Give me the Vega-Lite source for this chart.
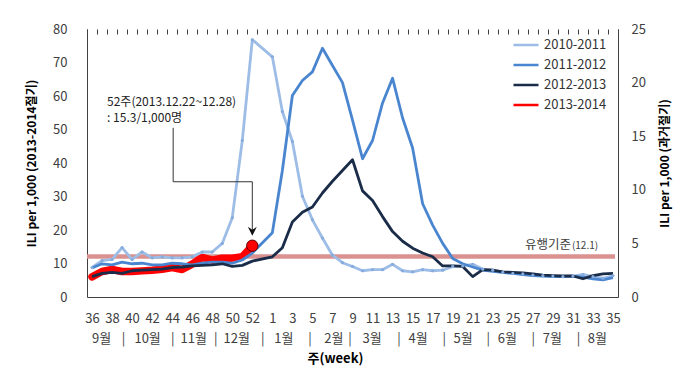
{
  "$schema": "https://vega.github.io/schema/vega-lite/v6.json",
  "width": 531,
  "height": 268,
  "autosize": {"type": "none"},
  "padding": {"left": 87, "top": 29, "right": 80, "bottom": 75},
  "background": "white",
  "config": {
    "view": {"stroke": null},
    "font": "Noto Sans CJK KR",
    "axis": {"grid": false, "domainColor": "#404040", "labelColor": "#404040", "labelFont": "Noto Sans CJK KR", "titleFont": "Noto Sans CJK KR", "labelOverlap": false, "labelFlush": false},
    "legend": {"labelFont": "Noto Sans CJK KR"}
  },
  "datasets": {
    "cur": [
      {"season": "2013-2014", "i": 0, "v": 6.0}, {"season": "2013-2014", "i": 1, "v": 7.6}, {"season": "2013-2014", "i": 2, "v": 8.2},
      {"season": "2013-2014", "i": 3, "v": 7.6}, {"season": "2013-2014", "i": 4, "v": 7.6}, {"season": "2013-2014", "i": 5, "v": 7.8},
      {"season": "2013-2014", "i": 6, "v": 8.0}, {"season": "2013-2014", "i": 7, "v": 8.3}, {"season": "2013-2014", "i": 8, "v": 8.8},
      {"season": "2013-2014", "i": 9, "v": 8.2}, {"season": "2013-2014", "i": 10, "v": 9.8}, {"season": "2013-2014", "i": 11, "v": 11.8},
      {"season": "2013-2014", "i": 12, "v": 11.0}, {"season": "2013-2014", "i": 13, "v": 11.6}, {"season": "2013-2014", "i": 14, "v": 11.6},
      {"season": "2013-2014", "i": 15, "v": 12.0}, {"season": "2013-2014", "i": 16, "v": 15.3}
    ],
    "hist": [
      {"season": "2010-2011", "i": 0, "v": 2.75}, {"season": "2010-2011", "i": 1, "v": 3.4}, {"season": "2010-2011", "i": 2, "v": 3.5},
      {"season": "2010-2011", "i": 3, "v": 4.6}, {"season": "2010-2011", "i": 4, "v": 3.5}, {"season": "2010-2011", "i": 5, "v": 4.2},
      {"season": "2010-2011", "i": 6, "v": 3.65}, {"season": "2010-2011", "i": 7, "v": 3.75}, {"season": "2010-2011", "i": 8, "v": 3.65},
      {"season": "2010-2011", "i": 9, "v": 3.65}, {"season": "2010-2011", "i": 10, "v": 3.75}, {"season": "2010-2011", "i": 11, "v": 4.2},
      {"season": "2010-2011", "i": 12, "v": 4.2}, {"season": "2010-2011", "i": 13, "v": 5.0}, {"season": "2010-2011", "i": 14, "v": 7.4},
      {"season": "2010-2011", "i": 15, "v": 14.6}, {"season": "2010-2011", "i": 16, "v": 24.0}, {"season": "2010-2011", "i": 18, "v": 22.4},
      {"season": "2010-2011", "i": 19, "v": 17.3}, {"season": "2010-2011", "i": 20, "v": 14.5}, {"season": "2010-2011", "i": 21, "v": 9.4},
      {"season": "2010-2011", "i": 22, "v": 7.2}, {"season": "2010-2011", "i": 23, "v": 5.5}, {"season": "2010-2011", "i": 24, "v": 3.9},
      {"season": "2010-2011", "i": 25, "v": 3.2}, {"season": "2010-2011", "i": 26, "v": 2.85}, {"season": "2010-2011", "i": 27, "v": 2.45},
      {"season": "2010-2011", "i": 28, "v": 2.55}, {"season": "2010-2011", "i": 29, "v": 2.55}, {"season": "2010-2011", "i": 30, "v": 3.05},
      {"season": "2010-2011", "i": 31, "v": 2.45}, {"season": "2010-2011", "i": 32, "v": 2.35}, {"season": "2010-2011", "i": 33, "v": 2.55},
      {"season": "2010-2011", "i": 34, "v": 2.45}, {"season": "2010-2011", "i": 35, "v": 2.5}, {"season": "2010-2011", "i": 36, "v": 2.85},
      {"season": "2010-2011", "i": 37, "v": 2.9}, {"season": "2010-2011", "i": 38, "v": 3.05}, {"season": "2010-2011", "i": 39, "v": 2.6},
      {"season": "2010-2011", "i": 40, "v": 2.5}, {"season": "2010-2011", "i": 41, "v": 2.3}, {"season": "2010-2011", "i": 42, "v": 2.2},
      {"season": "2010-2011", "i": 43, "v": 2.15}, {"season": "2010-2011", "i": 44, "v": 2.05}, {"season": "2010-2011", "i": 45, "v": 2.0},
      {"season": "2010-2011", "i": 46, "v": 1.95}, {"season": "2010-2011", "i": 47, "v": 1.9}, {"season": "2010-2011", "i": 48, "v": 1.95},
      {"season": "2010-2011", "i": 49, "v": 2.1}, {"season": "2010-2011", "i": 50, "v": 1.9}, {"season": "2010-2011", "i": 51, "v": 1.75},
      {"season": "2010-2011", "i": 52, "v": 2.0},
      {"season": "2011-2012", "i": 0, "v": 2.7}, {"season": "2011-2012", "i": 1, "v": 3.1}, {"season": "2011-2012", "i": 2, "v": 3.0},
      {"season": "2011-2012", "i": 3, "v": 3.25}, {"season": "2011-2012", "i": 4, "v": 3.1}, {"season": "2011-2012", "i": 5, "v": 3.15},
      {"season": "2011-2012", "i": 6, "v": 3.0}, {"season": "2011-2012", "i": 7, "v": 3.0}, {"season": "2011-2012", "i": 8, "v": 3.15},
      {"season": "2011-2012", "i": 9, "v": 3.1}, {"season": "2011-2012", "i": 10, "v": 3.0}, {"season": "2011-2012", "i": 11, "v": 3.15},
      {"season": "2011-2012", "i": 12, "v": 3.25}, {"season": "2011-2012", "i": 13, "v": 3.25}, {"season": "2011-2012", "i": 14, "v": 3.15},
      {"season": "2011-2012", "i": 15, "v": 3.45}, {"season": "2011-2012", "i": 16, "v": 4.1}, {"season": "2011-2012", "i": 18, "v": 6.0},
      {"season": "2011-2012", "i": 19, "v": 11.8}, {"season": "2011-2012", "i": 20, "v": 18.8}, {"season": "2011-2012", "i": 21, "v": 20.2},
      {"season": "2011-2012", "i": 22, "v": 21.0}, {"season": "2011-2012", "i": 23, "v": 23.2}, {"season": "2011-2012", "i": 24, "v": 21.6},
      {"season": "2011-2012", "i": 25, "v": 20.0}, {"season": "2011-2012", "i": 26, "v": 16.5}, {"season": "2011-2012", "i": 27, "v": 12.9},
      {"season": "2011-2012", "i": 28, "v": 14.6}, {"season": "2011-2012", "i": 29, "v": 18.1}, {"season": "2011-2012", "i": 30, "v": 20.4},
      {"season": "2011-2012", "i": 31, "v": 16.7}, {"season": "2011-2012", "i": 32, "v": 13.9}, {"season": "2011-2012", "i": 33, "v": 8.7},
      {"season": "2011-2012", "i": 34, "v": 6.7}, {"season": "2011-2012", "i": 35, "v": 5.0}, {"season": "2011-2012", "i": 36, "v": 3.6},
      {"season": "2011-2012", "i": 37, "v": 3.1}, {"season": "2011-2012", "i": 38, "v": 2.8}, {"season": "2011-2012", "i": 39, "v": 2.5},
      {"season": "2011-2012", "i": 40, "v": 2.4}, {"season": "2011-2012", "i": 41, "v": 2.3}, {"season": "2011-2012", "i": 42, "v": 2.2},
      {"season": "2011-2012", "i": 43, "v": 2.1}, {"season": "2011-2012", "i": 44, "v": 2.0}, {"season": "2011-2012", "i": 45, "v": 1.95},
      {"season": "2011-2012", "i": 46, "v": 1.9}, {"season": "2011-2012", "i": 47, "v": 1.9}, {"season": "2011-2012", "i": 48, "v": 1.95},
      {"season": "2011-2012", "i": 49, "v": 1.85}, {"season": "2011-2012", "i": 50, "v": 1.7}, {"season": "2011-2012", "i": 51, "v": 1.6},
      {"season": "2011-2012", "i": 52, "v": 1.8},
      {"season": "2012-2013", "i": 0, "v": 1.9}, {"season": "2012-2013", "i": 1, "v": 2.2}, {"season": "2012-2013", "i": 2, "v": 2.3},
      {"season": "2012-2013", "i": 3, "v": 2.2}, {"season": "2012-2013", "i": 4, "v": 2.45}, {"season": "2012-2013", "i": 5, "v": 2.5},
      {"season": "2012-2013", "i": 6, "v": 2.55}, {"season": "2012-2013", "i": 7, "v": 2.6}, {"season": "2012-2013", "i": 8, "v": 2.75},
      {"season": "2012-2013", "i": 9, "v": 2.8}, {"season": "2012-2013", "i": 10, "v": 2.9}, {"season": "2012-2013", "i": 11, "v": 2.95},
      {"season": "2012-2013", "i": 12, "v": 3.0}, {"season": "2012-2013", "i": 13, "v": 3.1}, {"season": "2012-2013", "i": 14, "v": 2.85},
      {"season": "2012-2013", "i": 15, "v": 2.95}, {"season": "2012-2013", "i": 16, "v": 3.35}, {"season": "2012-2013", "i": 18, "v": 3.75},
      {"season": "2012-2013", "i": 19, "v": 4.6}, {"season": "2012-2013", "i": 20, "v": 7.0}, {"season": "2012-2013", "i": 21, "v": 7.9},
      {"season": "2012-2013", "i": 22, "v": 8.4}, {"season": "2012-2013", "i": 23, "v": 9.7}, {"season": "2012-2013", "i": 24, "v": 10.8},
      {"season": "2012-2013", "i": 25, "v": 11.8}, {"season": "2012-2013", "i": 26, "v": 12.8}, {"season": "2012-2013", "i": 27, "v": 9.9},
      {"season": "2012-2013", "i": 28, "v": 9.0}, {"season": "2012-2013", "i": 29, "v": 7.5}, {"season": "2012-2013", "i": 30, "v": 6.1},
      {"season": "2012-2013", "i": 31, "v": 5.2}, {"season": "2012-2013", "i": 32, "v": 4.55}, {"season": "2012-2013", "i": 33, "v": 4.1},
      {"season": "2012-2013", "i": 34, "v": 3.75}, {"season": "2012-2013", "i": 35, "v": 2.9}, {"season": "2012-2013", "i": 36, "v": 2.9},
      {"season": "2012-2013", "i": 37, "v": 2.85}, {"season": "2012-2013", "i": 38, "v": 1.9}, {"season": "2012-2013", "i": 39, "v": 2.55},
      {"season": "2012-2013", "i": 40, "v": 2.5}, {"season": "2012-2013", "i": 41, "v": 2.35}, {"season": "2012-2013", "i": 42, "v": 2.3},
      {"season": "2012-2013", "i": 43, "v": 2.25}, {"season": "2012-2013", "i": 44, "v": 2.15}, {"season": "2012-2013", "i": 45, "v": 2.05},
      {"season": "2012-2013", "i": 46, "v": 2.0}, {"season": "2012-2013", "i": 47, "v": 1.96}, {"season": "2012-2013", "i": 48, "v": 1.96},
      {"season": "2012-2013", "i": 49, "v": 1.7}, {"season": "2012-2013", "i": 50, "v": 2.0}, {"season": "2012-2013", "i": 51, "v": 2.15},
      {"season": "2012-2013", "i": 52, "v": 2.2}
    ]
  },
  "layer": [
    {
      "encoding": {
        "x": {
          "field": "i", "type": "quantitative",
          "scale": {"domain": [-0.5, 52.5], "nice": false, "zero": false},
          "axis": {
            "values": [0, 2, 4, 6, 8, 10, 12, 14, 16, 18, 20, 22, 24, 26, 28, 30, 32, 34, 36, 38, 40, 42, 44, 46, 48, 50, 52],
            "labelExpr": "datum.value <= 17 ? datum.value + 36 : datum.value - 17",
            "title": null, "ticks": false, "domain": true, "domainColor": "#404040",
            "labelPadding": 15, "labelFontSize": 13, "labelFlush": false, "labelOverlap": false, "labelBound": false
          }
        },
        "y": {
          "field": "v", "type": "quantitative",
          "scale": {"domain": [0, 80], "nice": false},
          "axis": {
            "orient": "left", "values": [0, 10, 20, 30, 40, 50, 60, 70, 80],
            "title": "ILI per 1,000 (2013-2014절기)", "titleFontWeight": "bold", "titleFontSize": 12,
            "titleColor": "#000000", "titlePadding": 14, "labelPadding": 20, "ticks": false, "labelFontSize": 13,
            "labelOverlap": false
          }
        }
      },
      "layer": [
        {
          "data": {"values": [{"i": -0.5, "i_end": 52.2, "v": 12.1}]},
          "mark": {"type": "rule", "color": "#D9928F", "strokeWidth": 4.5},
          "encoding": {"x2": {"field": "i_end"}}
        },
        {
          "data": {"name": "cur"},
          "mark": {"type": "line", "strokeWidth": 7.5, "strokeJoin": "round", "strokeCap": "round"},
          "encoding": {
            "color": {
              "field": "season", "type": "nominal",
              "scale": {"domain": ["2010-2011", "2011-2012", "2012-2013", "2013-2014"], "range": ["#9DBDE6", "#4A86CF", "#1A2C48", "#FF0000"]},
              "legend": {
                "orient": "none", "legendX": 425, "legendY": 9, "title": null,
                "symbolType": "stroke", "symbolSize": 625, "symbolStrokeWidth": 2.5,
                "labelFontSize": 13, "labelColor": "#333333", "labelOffset": 4, "rowPadding": 6, "clipHeight": 14
              }
            }
          }
        }
      ]
    },
    {
      "data": {"name": "hist"},
      "encoding": {
        "x": {
          "field": "i", "type": "quantitative",
          "scale": {"domain": [-0.5, 52.5], "nice": false, "zero": false},
          "axis": {
            "orient": "bottom",
            "values": [0.9, 3.1, 5.5, 8.0, 10.1, 12.3, 14.4, 17.0, 19.1, 21.7, 24.1, 25.7, 27.9, 30.6, 32.5, 35.1, 37.0, 39.5, 41.4, 44.0, 45.9, 48.5, 50.4],
            "labelExpr": "['9월','|','10월','|','11월','|','12월','|','1월','|','2월','|','3월','|','4월','|','5월','|','6월','|','7월','|','8월'][indexof([0.9, 3.1, 5.5, 8.0, 10.1, 12.3, 14.4, 17.0, 19.1, 21.7, 24.1, 25.7, 27.9, 30.6, 32.5, 35.1, 37.0, 39.5, 41.4, 44.0, 45.9, 48.5, 50.4], datum.value)]",
            "domain": false, "ticks": false, "labelPadding": 35, "labelFontSize": 13,
            "labelFlush": false, "labelOverlap": false, "labelBound": false,
            "title": "주(week)", "titleFontWeight": "bold", "titleFontSize": 13, "titleColor": "#000000",
            "titlePadding": 7, "titleX": 248
          }
        },
        "y": {
          "field": "v", "type": "quantitative",
          "scale": {"domain": [0, 25], "nice": false},
          "axis": {
            "orient": "right", "values": [0, 5, 10, 15, 20, 25],
            "title": "ILI per 1,000 (과거절기)", "titleAngle": 270, "titleBaseline": "top",
            "titleFontWeight": "bold", "titleFontSize": 12, "titleColor": "#000000",
            "titlePadding": 14, "labelPadding": 13, "ticks": false, "labelFontSize": 13, "labelOverlap": false
          }
        }
      },
      "layer": [
        {
          "mark": {"type": "line", "strokeWidth": 2.8, "strokeJoin": "round"},
          "encoding": {"color": {"field": "season", "type": "nominal"}}
        },
        {
          "transform": [{"filter": "datum.season == '2010-2011'"}],
          "mark": {"type": "point", "filled": true, "size": 10, "color": "#86ABDD", "opacity": 1}
        }
      ]
    },
    {
      "encoding": {
        "x": {
          "field": "i", "type": "quantitative",
          "scale": {"domain": [-0.5, 52.5], "nice": false, "zero": false},
          "axis": {
            "values": [-0.5, 0.5, 1.5, 2.5, 3.5, 4.5, 5.5, 6.5, 7.5, 8.5, 9.5, 10.5, 11.5, 12.5, 13.5, 14.5, 15.5, 16.5, 17.5, 18.5, 19.5, 20.5, 21.5, 22.5, 23.5, 24.5, 25.5, 26.5, 27.5, 28.5, 29.5, 30.5, 31.5, 32.5, 33.5, 34.5, 35.5, 36.5, 37.5, 38.5, 39.5, 40.5, 41.5, 42.5, 43.5, 44.5, 45.5, 46.5, 47.5, 48.5, 49.5, 50.5, 51.5, 52.5],
            "labels": false, "domain": false, "ticks": true, "tickSize": 5, "offset": -5, "tickColor": "#404040", "tickWidth": 1, "title": null
          }
        },
        "y": {"field": "v", "type": "quantitative", "scale": {"domain": [0, 80], "nice": false}, "axis": null}
      },
      "layer": [
        {
          "data": {"values": [{"i": 16, "v": 15.3}]},
          "mark": {"type": "point", "filled": true, "shape": "circle", "size": 130, "fill": "#FF0000", "stroke": "#5A0000", "strokeWidth": 1, "opacity": 1}
        },
        {
          "data": {"values": [{"k": 1, "i": 8.1, "v": 50.5}, {"k": 2, "i": 8.1, "v": 34.4}, {"k": 3, "i": 16, "v": 34.4}, {"k": 4, "i": 16, "v": 19.5}]},
          "mark": {"type": "line", "color": "#333333", "strokeWidth": 1},
          "encoding": {"order": {"field": "k", "type": "quantitative"}}
        },
        {
          "data": {"values": [{"i": 16, "v": 19.6}]},
          "mark": {"type": "point", "shape": "M-1,-1L0,1L1,-1L0,-0.35Z", "filled": true, "color": "#111111", "size": 80, "opacity": 1}
        },
        {
          "data": {"values": [{"i": 1.5, "v": 58.1, "t": "52주(2013.12.22~12.28)"}, {"i": 1.5, "v": 53.5, "t": ": 15.3/1,000명"}]},
          "mark": {"type": "text", "align": "left", "baseline": "middle", "fontSize": 12, "color": "#222222"},
          "encoding": {"text": {"field": "t"}}
        },
        {
          "data": {"values": [{"i": 47.8, "v": 15.5, "t": "유행기준"}]},
          "mark": {"type": "text", "align": "right", "baseline": "middle", "fontSize": 12.5, "color": "#404040"},
          "encoding": {"text": {"field": "t"}}
        },
        {
          "data": {"values": [{"i": 47.9, "v": 15.3, "t": "(12.1)"}]},
          "mark": {"type": "text", "align": "left", "baseline": "middle", "fontSize": 10, "color": "#404040"},
          "encoding": {"text": {"field": "t"}}
        }
      ]
    }
  ],
  "resolve": {"scale": {"y": "independent"}, "axis": {"x": "independent", "y": "independent"}}
}
